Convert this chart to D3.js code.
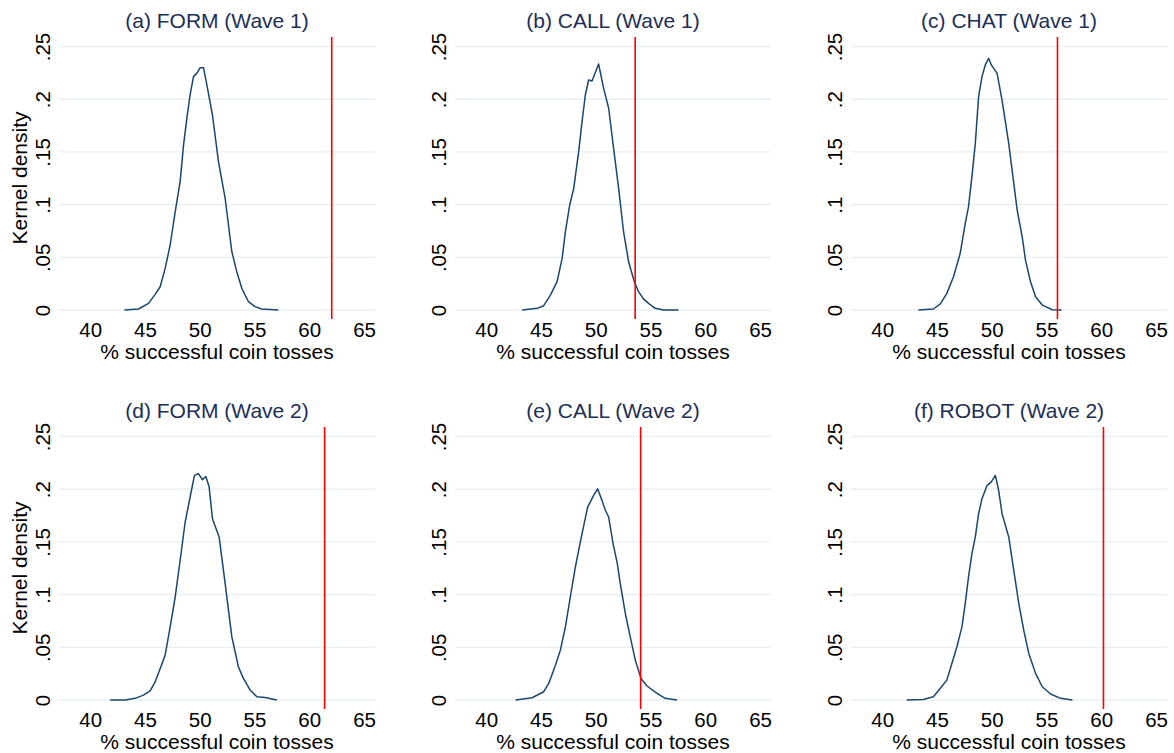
<!DOCTYPE html>
<html><head><meta charset="utf-8">
<script src="https://cdn.jsdelivr.net/npm/d3@7"></script>
<style>body{margin:0;background:#fff}svg{display:block}text{font-family:"Liberation Sans",Arial,sans-serif}</style>
</head><body><svg id="c" width="1174" height="753"></svg>
<script>
const panelTitles = ["(a) FORM (Wave 1)","(b) CALL (Wave 1)","(c) CHAT (Wave 1)","(d) FORM (Wave 2)","(e) CALL (Wave 2)","(f) ROBOT (Wave 2)"];
const redLines = [62.05, 53.6, 56.0, 61.4, 54.1, 60.2];
const xTicks = [40,45,50,55,60,65];
const yTicks = [0,0.05,0.1,0.15,0.2,0.25];
const yTickLabels = ["0",".05",".1",".15",".2",".25"];
const xTitle = "% successful coin tosses";
const yTitle = "Kernel density";

const formW1 = [[43.13,0],[44.41,0.001],[45.32,0.0063],[45.93,0.0149],[46.39,0.0221],[46.84,0.0395],[47.30,0.0617],[47.76,0.0933],[48.21,0.1218],[48.52,0.1565],[48.82,0.1818],[49.12,0.204],[49.43,0.2214],[49.73,0.2245],[50.04,0.2299],[50.34,0.2299],[50.65,0.2135],[51.16,0.185],[51.71,0.1407],[52.32,0.106],[52.93,0.0553],[53.38,0.0364],[53.84,0.0206],[54.45,0.0079],[55.05,0.0032],[55.66,0.001],[57.18,0]];
const callW1 = [[43.28,0],[44.65,0.0016],[45.25,0.0041],[45.86,0.0142],[46.47,0.0269],[46.93,0.049],[47.23,0.0743],[47.62,0.0996],[47.99,0.1154],[48.44,0.1502],[48.75,0.1787],[49.05,0.204],[49.35,0.2182],[49.66,0.2173],[50.26,0.2334],[50.72,0.2103],[51.18,0.1914],[51.63,0.1534],[52.09,0.1154],[52.54,0.0743],[53.0,0.0458],[53.52,0.0269],[53.91,0.0174],[54.37,0.0104],[54.82,0.0063],[55.43,0.0016],[56.19,0],[57.56,0]];
const chatW1 = [[43.30,0],[44.67,0.001],[45.29,0.0057],[45.90,0.0158],[46.51,0.0316],[47.12,0.0538],[47.58,0.0823],[47.88,0.098],[48.19,0.1265],[48.50,0.1581],[48.80,0.2024],[49.11,0.2214],[49.41,0.2325],[49.72,0.2388],[49.96,0.2325],[50.49,0.2245],[50.94,0.1992],[51.55,0.1581],[52.01,0.1202],[52.32,0.0949],[52.78,0.0695],[53.08,0.0474],[53.54,0.0269],[54.0,0.0126],[54.61,0.0047],[55.53,0.0003],[56.38,0]];
const formW2 = [[41.82,0],[43.19,0],[44.11,0.0016],[44.86,0.0047],[45.47,0.0088],[45.93,0.0173],[46.39,0.030],[46.84,0.0426],[47.30,0.0694],[47.76,0.0978],[48.21,0.1326],[48.67,0.1689],[49.12,0.1926],[49.52,0.2131],[49.88,0.2147],[50.25,0.209],[50.56,0.2121],[50.86,0.202],[51.16,0.172],[51.77,0.1547],[52.32,0.1105],[52.93,0.060],[53.53,0.0315],[53.99,0.0205],[54.60,0.0095],[55.21,0.0031],[55.97,0.0025],[57.03,0]];
const callW2 = [[42.67,0],[44.19,0.0022],[45.25,0.0079],[45.71,0.0158],[46.32,0.0331],[46.77,0.0473],[47.23,0.0694],[47.68,0.0978],[48.14,0.1262],[48.44,0.142],[48.75,0.1578],[49.26,0.183],[49.81,0.1941],[50.17,0.2004],[50.57,0.1894],[50.88,0.180],[51.18,0.1736],[51.58,0.1484],[51.94,0.131],[52.24,0.1105],[52.70,0.0821],[53.15,0.060],[53.61,0.0379],[54.13,0.0205],[54.68,0.0133],[55.59,0.0063],[56.34,0.0016],[57.41,0]];
const robotW2 = [[42.24,0],[43.76,0.0006],[44.67,0.0031],[45.29,0.011],[45.90,0.0189],[46.36,0.0347],[46.82,0.0505],[47.28,0.0694],[47.58,0.0915],[47.88,0.1168],[48.19,0.1389],[48.50,0.1547],[48.80,0.1768],[49.11,0.191],[49.57,0.2036],[49.94,0.2067],[50.33,0.2131],[50.63,0.1989],[50.94,0.1768],[51.55,0.1547],[52.01,0.1231],[52.47,0.0915],[52.92,0.0663],[53.38,0.0442],[54.0,0.0253],[54.61,0.0126],[55.37,0.0057],[56.29,0.0016],[57.36,0]];
const densities = [formW1, callW1, chatW1, formW2, callW2, robotW2];

const svg = d3.select("#c");
const colLeft = [59, 455, 851], pw = 316;
const rowTop = [37, 427], ph = 282;
const xDom = [37.15, 66.0], yDom = [-0.0085, 0.259];

densities.forEach((data, i) => {
  const col = i % 3, row = Math.floor(i / 3);
  const L = colLeft[col], T = rowTop[row];
  const x = d3.scaleLinear().domain(xDom).range([L, L + pw]);
  const y = d3.scaleLinear().domain(yDom).range([T + ph, T]);
  const g = svg.append("g");
  // gridlines
  g.selectAll(".grid").data(yTicks).enter().append("line")
    .attr("x1", L).attr("x2", L + pw)
    .attr("y1", d => y(d)).attr("y2", d => y(d))
    .attr("stroke", "#e8eff1").attr("stroke-width", 1.4);
  // y tick labels (rotated)
  const yAxis = d3.axisLeft(y).tickValues(yTicks).tickSize(0).tickFormat((d, k) => yTickLabels[k]);
  const ya = g.append("g").attr("transform", `translate(${L},0)`).call(yAxis);
  ya.select(".domain").remove();
  ya.selectAll("text").attr("x", null).attr("dy", null)
    .attr("transform", "translate(-9.5,0) rotate(-90)")
    .attr("text-anchor", "middle").attr("font-size", 20.5).attr("fill", "#000")
    .style("font-family", '"Liberation Sans",Arial,sans-serif');
  // x tick labels
  const xAxis = d3.axisBottom(x).tickValues(xTicks).tickSize(0).tickFormat(d3.format("d"));
  const xa = g.append("g").attr("transform", `translate(0,${T + ph})`).call(xAxis);
  xa.select(".domain").remove();
  xa.selectAll("text").attr("y", 18).attr("dy", null).attr("font-size", 20.5).attr("fill", "#000")
    .style("font-family", '"Liberation Sans",Arial,sans-serif');
  // density line
  g.append("path").datum(data)
    .attr("d", d3.line().x(d => x(d[0])).y(d => y(d[1])))
    .attr("fill", "none").attr("stroke", "#1a476f").attr("stroke-width", 1.5).attr("stroke-linejoin", "round");
  // red reference line
  g.append("line").attr("x1", x(redLines[i])).attr("x2", x(redLines[i]))
    .attr("y1", T).attr("y2", T + ph).attr("stroke", "#ff0000").attr("stroke-width", 1.6);
  // titles
  g.append("text").attr("x", L + pw / 2).attr("y", T - 9).attr("text-anchor", "middle")
    .attr("font-size", 21).attr("fill", "#1c2e55").text(panelTitles[i]);
  g.append("text").attr("x", L + pw / 2).attr("y", T + ph + 40).attr("text-anchor", "middle")
    .attr("font-size", 21).attr("fill", "#000").text(xTitle);
  if (col === 0) {
    g.append("text").attr("transform", `translate(${L - 32},${T + ph / 2}) rotate(-90)`)
      .attr("text-anchor", "middle").attr("font-size", 21).attr("fill", "#000").text(yTitle);
  }
});
</script></body></html>
